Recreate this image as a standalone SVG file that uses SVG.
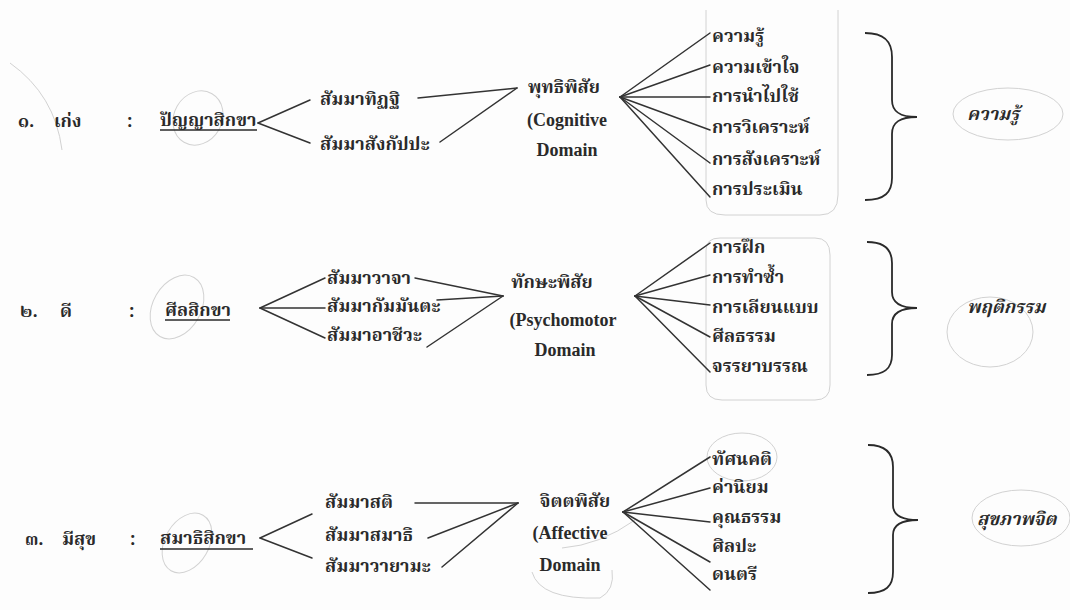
<svg xmlns="http://www.w3.org/2000/svg" width="1070" height="610" viewBox="0 0 1070 610">
<style>
.th{font-family:"Noto Serif Thai","Noto Sans Thai","Loma","Garuda","Liberation Serif",serif;font-size:18px;font-weight:bold;fill:#2a2a2a;dominant-baseline:central}
.en{font-family:"Liberation Serif","Times New Roman",serif;font-size:18px;font-weight:bold;fill:#2a2a2a;text-anchor:middle;dominant-baseline:central}
.it{font-style:italic}
.mid{text-anchor:middle}
.ln{stroke:#333;stroke-width:1.5;fill:none;stroke-linecap:round}
.ul{stroke:#2a2a2a;stroke-width:1.3}
.br{stroke:#2a2a2a;stroke-width:1.8;fill:none}
.pc{stroke:#d2d2d2;stroke-width:1;fill:none}
</style>
<rect width="1070" height="610" fill="#fdfdfd"/>

<g id="pencil-marks">
<path class="pc" d="M10,63 Q55,95 62,150"/>
<ellipse class="pc" cx="198" cy="118" rx="24" ry="28" transform="rotate(30 198 118)"/>
<ellipse class="pc" cx="177" cy="307" rx="24" ry="34" transform="rotate(30 177 307)"/>
<ellipse class="pc" cx="187" cy="543" rx="22" ry="32" transform="rotate(30 187 543)"/>
<ellipse class="pc" cx="1008" cy="114" rx="55" ry="26"/>
<ellipse class="pc" cx="990" cy="332" rx="43" ry="35"/>
<ellipse class="pc" cx="1021" cy="518" rx="49" ry="28"/>
<ellipse class="pc" cx="742" cy="457" rx="35" ry="24"/>
<path class="pc" d="M706,10 L706,200 Q706,215 725,215 L820,215 Q838,215 838,195 L838,10"/>
<path class="pc" d="M706,250 Q706,238 720,238 L815,238 Q830,238 830,255 L830,385 Q830,400 815,400 L722,400 Q706,400 706,385 Z"/>
<path class="pc" d="M562,548 Q600,545 635,520 M532,572 Q540,600 600,598 Q615,590 612,570"/>
</g>

<g id="connectors">
<line class="ln" x1="258" y1="123" x2="310" y2="100"/>
<line class="ln" x1="258" y1="123" x2="310" y2="143"/>
<line class="ln" x1="418" y1="98" x2="517" y2="88"/>
<line class="ln" x1="440" y1="142" x2="517" y2="88"/>
<line class="ln" x1="620" y1="97" x2="710" y2="33"/>
<line class="ln" x1="620" y1="97" x2="710" y2="65"/>
<line class="ln" x1="620" y1="97" x2="710" y2="97"/>
<line class="ln" x1="620" y1="97" x2="710" y2="130"/>
<line class="ln" x1="620" y1="97" x2="710" y2="163"/>
<line class="ln" x1="620" y1="97" x2="710" y2="197"/>

<line class="ln" x1="260" y1="308" x2="325" y2="278"/>
<line class="ln" x1="260" y1="308" x2="325" y2="308"/>
<line class="ln" x1="260" y1="308" x2="325" y2="338"/>
<line class="ln" x1="415" y1="278" x2="503" y2="296"/>
<line class="ln" x1="437" y1="300" x2="503" y2="296"/>
<line class="ln" x1="427" y1="347" x2="503" y2="296"/>
<line class="ln" x1="635" y1="296" x2="710" y2="243"/>
<line class="ln" x1="635" y1="296" x2="710" y2="275"/>
<line class="ln" x1="635" y1="296" x2="710" y2="305"/>
<line class="ln" x1="635" y1="296" x2="710" y2="337"/>
<line class="ln" x1="635" y1="296" x2="710" y2="372"/>

<line class="ln" x1="260" y1="538" x2="312" y2="514"/>
<line class="ln" x1="260" y1="538" x2="312" y2="558"/>
<line class="ln" x1="415" y1="503" x2="518" y2="503"/>
<line class="ln" x1="428" y1="538" x2="518" y2="503"/>
<line class="ln" x1="442" y1="567" x2="518" y2="503"/>
<line class="ln" x1="623" y1="512" x2="710" y2="457"/>
<line class="ln" x1="623" y1="512" x2="710" y2="488"/>
<line class="ln" x1="623" y1="512" x2="710" y2="522"/>
<line class="ln" x1="623" y1="512" x2="710" y2="562"/>
<line class="ln" x1="623" y1="512" x2="710" y2="590"/>

<path class="br" d="M865,33 C885,33 892,42 892,57 L892,100 C892,112 900,117 917,117 C900,117 892,122 892,134 L892,178 C892,192 885,200 865,200"/>
<path class="br" d="M867,242 C885,242 892,250 892,263 L892,292 C892,303 900,308 917,308 C900,308 892,313 892,324 L892,355 C892,368 885,375 867,375"/>
<path class="br" d="M868,445 C886,445 893,453 893,467 L893,505 C893,515 901,520 918,520 C901,520 893,525 893,535 L893,572 C893,586 886,593 868,593"/>
</g>

<g id="row1-label">
<text class="th" x="18" y="122">๑.</text>
<text class="th" x="54" y="122">เก่ง</text>
<text class="th" x="127" y="122">:</text>
</g>
<g id="n-panya">
<text class="th" x="160" y="121">ปัญญาสิกขา</text>
<line class="ul" x1="160" y1="130" x2="257" y2="130"/>
</g>
<g id="n-samma-ditthi"><text class="th" x="320" y="100">สัมมาทิฏฐิ</text></g>
<g id="n-samma-sankappa"><text class="th" x="320" y="145">สัมมาสังกัปปะ</text></g>
<g id="n-cognitive">
<text class="th mid" x="564" y="88">พุทธิพิสัย</text>
<text class="en" x="567" y="120">(Cognitive</text>
<text class="en" x="567" y="150">Domain</text>
</g>
<g id="n-cog-items">
<text class="th" x="712" y="37">ความรู้</text>
<text class="th" x="712" y="68">ความเข้าใจ</text>
<text class="th" x="712" y="97">การนำไปใช้</text>
<text class="th" x="712" y="128">การวิเคราะห์</text>
<text class="th" x="712" y="160">การสังเคราะห์</text>
<text class="th" x="712" y="190">การประเมิน</text>
</g>
<g id="n-knowledge"><text class="th it" x="967" y="115">ความรู้</text></g>

<g id="row2-label">
<text class="th" x="20" y="312">๒.</text>
<text class="th" x="60" y="312">ดี</text>
<text class="th" x="129" y="312">:</text>
</g>
<g id="n-sila">
<text class="th" x="165" y="311">ศีลสิกขา</text>
<line class="ul" x1="165" y1="320" x2="230" y2="320"/>
</g>
<g id="n-samma-vaca"><text class="th" x="327" y="279">สัมมาวาจา</text></g>
<g id="n-samma-kammanta"><text class="th" x="327" y="307">สัมมากัมมันตะ</text></g>
<g id="n-samma-ajiva"><text class="th" x="327" y="336">สัมมาอาชีวะ</text></g>
<g id="n-psychomotor">
<text class="th mid" x="552" y="283">ทักษะพิสัย</text>
<text class="en" x="563" y="320">(Psychomotor</text>
<text class="en" x="565" y="350">Domain</text>
</g>
<g id="n-psy-items">
<text class="th" x="712" y="248">การฝึก</text>
<text class="th" x="712" y="278">การทำซ้ำ</text>
<text class="th" x="712" y="308">การเลียนแบบ</text>
<text class="th" x="712" y="337">ศีลธรรม</text>
<text class="th" x="712" y="367">จรรยาบรรณ</text>
</g>
<g id="n-behaviour"><text class="th it" x="967" y="308">พฤติกรรม</text></g>

<g id="row3-label">
<text class="th" x="25" y="540">๓.</text>
<text class="th" x="62" y="540">มีสุข</text>
<text class="th" x="130" y="540">:</text>
</g>
<g id="n-samadhi">
<text class="th" x="160" y="539">สมาธิสิกขา</text>
<line class="ul" x1="160" y1="549" x2="253" y2="549"/>
</g>
<g id="n-samma-sati"><text class="th" x="325" y="503">สัมมาสติ</text></g>
<g id="n-samma-samadhi"><text class="th" x="325" y="536">สัมมาสมาธิ</text></g>
<g id="n-samma-vayama"><text class="th" x="325" y="567">สัมมาวายามะ</text></g>
<g id="n-affective">
<text class="th mid" x="575" y="502">จิตตพิสัย</text>
<text class="en" x="570" y="533">(Affective</text>
<text class="en" x="570" y="565">Domain</text>
</g>
<g id="n-aff-items">
<text class="th" x="712" y="460">ทัศนคติ</text>
<text class="th" x="712" y="488">ค่านิยม</text>
<text class="th" x="712" y="518">คุณธรรม</text>
<text class="th" x="712" y="547">ศิลปะ</text>
<text class="th" x="712" y="575">ดนตรี</text>
</g>
<g id="n-mental-health"><text class="th it" x="977" y="520">สุขภาพจิต</text></g>
</svg>
